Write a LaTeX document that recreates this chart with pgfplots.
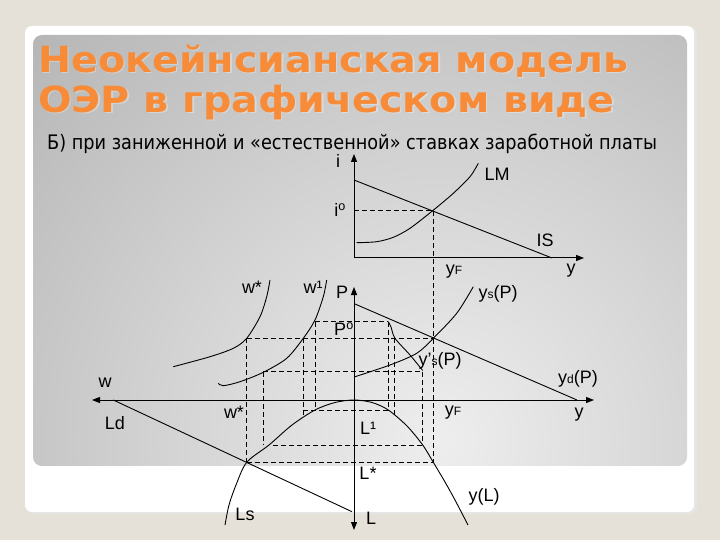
\documentclass[border=0pt]{standalone}
\usepackage{graphicx}
\usepackage{pgfplots}
\pgfplotsset{compat=1.18}
\usepackage{fontspec}
\setmainfont{Liberation Sans}
\newfontfamily\titlefont{DejaVu Sans}
\usetikzlibrary{arrows.meta}
\definecolor{bgbeige}{HTML}{E6E1D8}
\definecolor{titleorange}{HTML}{F78B38}
\definecolor{shadeIn}{HTML}{EEEEEE}
\definecolor{shadeOut}{HTML}{A2A2A2}
\newcommand\lbl{\fontsize{18bp}{20bp}\selectfont}
\newcommand\sm[1]{{\fontsize{12bp}{12bp}\selectfont #1}}
\newcommand\ttl{\titlefont\bfseries\fontsize{36bp}{38bp}\selectfont}
\tikzset{
  ln/.style={black, line width=0.9bp},
  dl/.style={black, line width=1bp, dash pattern=on 5bp off 3bp},
  ax/.style={black, line width=1bp, -{Triangle[length=8bp,width=6bp]}},
  lab/.style={font=\lbl, inner sep=1bp},
}
\begin{document}
\begin{tikzpicture}[x=1bp,y=1bp]
% slide background (canvas y = 540 - pixel y)
\fill[bgbeige] (0,0) rectangle (720,540);
\fill[black!10, rounded corners=7] (27,26) rectangle (697,513);
\fill[white, rounded corners=7] (25,28) rectangle (694,514);
\begin{scope}
\clip[rounded corners=9] (33,74) rectangle (687,505);
\shade[inner color=shadeIn, outer color=shadeOut] (440,100) circle[radius=780];
\end{scope}

\begin{axis}[x=1bp, y=1bp, y dir=reverse, xmin=0, xmax=720, ymin=0, ymax=540,
  hide axis, clip=false, scale only axis, at={(0,0)}, anchor=south west]

% titles (light halo, then orange text)
\node[anchor=base west, inner sep=0, text=white, opacity=0.3] at (39.5,73.8)
  {\ttl\scalebox{1.1}[1]{Неокейнсианская модель}};
\node[anchor=base west, inner sep=0, text=titleorange] at (38,72.3)
  {\ttl\scalebox{1.1}[1]{Неокейнсианская модель}};
\node[anchor=base west, inner sep=0, text=white, opacity=0.3] at (39.5,113.8)
  {\ttl\scalebox{1.1}[1]{ОЭР в графическом виде}};
\node[anchor=base west, inner sep=0, text=titleorange] at (38,112.3)
  {\ttl\scalebox{1.1}[1]{ОЭР в графическом виде}};
\node[anchor=base west, inner sep=0] at (47,150)
  {\titlefont\fontsize{20bp}{22bp}\selectfont\scalebox{0.885}[1]{Б) при заниженной и «естественной» ставках заработной платы}};

% ---------- upper panel: IS-LM ----------
\addplot[ax] coordinates {(354,258) (354,154)};
\addplot[ax] coordinates {(354,258) (584,258)};
\addplot[ln] coordinates {(354,180) (552,258)};
\addplot[ln, smooth] coordinates {(356.7,242.7) (376.7,241.7) (393.3,237.3) (410,228.3) (432.3,211) (453.3,193.3) (470,176.7) (478.3,163.3)};
\addplot[dl] coordinates {(354,211) (433,211)};
\addplot[dl] coordinates {(433,211) (433,462.3)};

\node[lab] at (338,161) {i};
\node[lab] at (497,174) {LM};
\node[lab] at (340,210) {i\textsuperscript{o}};
\node[lab] at (545,240) {IS};
\node[lab] at (571,271) {y};
\node[lab] at (454,272) {y\sm{F}};

% ---------- lower panel ----------
% axes
\addplot[ax] coordinates {(354,400) (354,287)};
\addplot[ax] coordinates {(354,400) (354,530)};
\addplot[ax] coordinates {(354,400) (92,400)};
\addplot[ax] coordinates {(354,400) (594,400)};

% aggregate demand and supply
\addplot[ln] coordinates {(355,304) (577,400)};
\addplot[ln, smooth] coordinates {(355,376.7) (390,365) (416.7,353.3) (433.3,338.3) (456.7,313.3) (473.3,286.7)};
\addplot[ln, smooth] coordinates {(388.3,321.7) (391,327) (395,338.3) (410,355) (422.7,370.5)};

% labour demand and production function arch
\addplot[ln] coordinates {(113.3,400) (352,511.7)};
\addplot[ln, smooth] coordinates {(225,525) (229,505) (236,485) (246.7,462.3) (269,445) (292,425) (315,410) (335,402.5) (354,400) (372,402.5) (388.3,410) (407,426) (422.7,445) (433.3,462.3) (445,482) (455,500) (468,525)};

% price-wage curves
\addplot[ln, smooth] coordinates {(173.3,366.7) (210,356.7) (233.3,348.3) (246.7,338.3) (260,316.7) (266.7,296.7) (270,280)};
\addplot[ln, smooth] coordinates {(218.3,383.3) (223.3,385.7) (240,381.7) (263.3,372.3) (286.7,358.3) (303.3,338.3) (315,320) (323.3,296.7) (326.7,280)};

% dashed construction lines
\addplot[dl] coordinates {(246.7,338.3) (433.3,338.3)};
\addplot[dl] coordinates {(315,321.7) (388.3,321.7)};
\addplot[dl] coordinates {(263.3,371.7) (422.7,371.7)};
\addplot[dl] coordinates {(303.3,410) (388.3,410)};
\addplot[dl] coordinates {(273.3,445) (422.7,445)};
\addplot[dl] coordinates {(246.7,462.3) (433.3,462.3)};
\addplot[dl] coordinates {(246.7,338.3) (246.7,462.3)};
\addplot[dl] coordinates {(263.3,371.7) (263.3,445)};
\addplot[dl] coordinates {(303.3,338.3) (303.3,417)};
\addplot[dl] coordinates {(315,321.7) (315,410)};
\addplot[dl] coordinates {(388.3,321.7) (388.3,410)};
\addplot[dl] coordinates {(394.3,338.3) (394.3,418)};
\addplot[dl] coordinates {(422.7,371.7) (422.7,445)};

% labels
\node[lab] at (252,287) {w*};
\node[lab] at (313,287) {w¹};
\node[lab] at (342,292) {P};
\node[lab] at (344,329) {P\textsuperscript{o}};
\node[lab] at (498,294) {y\sm{s}(P)};
\node[lab] at (440,361) {y’\sm{s}(P)};
\node[lab] at (578,379) {y\sm{d}(P)};
\node[lab] at (105,383) {w};
\node[lab] at (115,423) {Ld};
\node[lab] at (234,412) {w*};
\node[lab] at (368,428) {L¹};
\node[lab] at (453,413) {y\sm{F}};
\node[lab] at (579,415) {y};
\node[lab] at (368,473) {L*};
\node[lab] at (245,514) {Ls};
\node[lab] at (371,518) {L};
\node[lab] at (484,497) {y(L)};
\end{axis}
\end{tikzpicture}
\end{document}
